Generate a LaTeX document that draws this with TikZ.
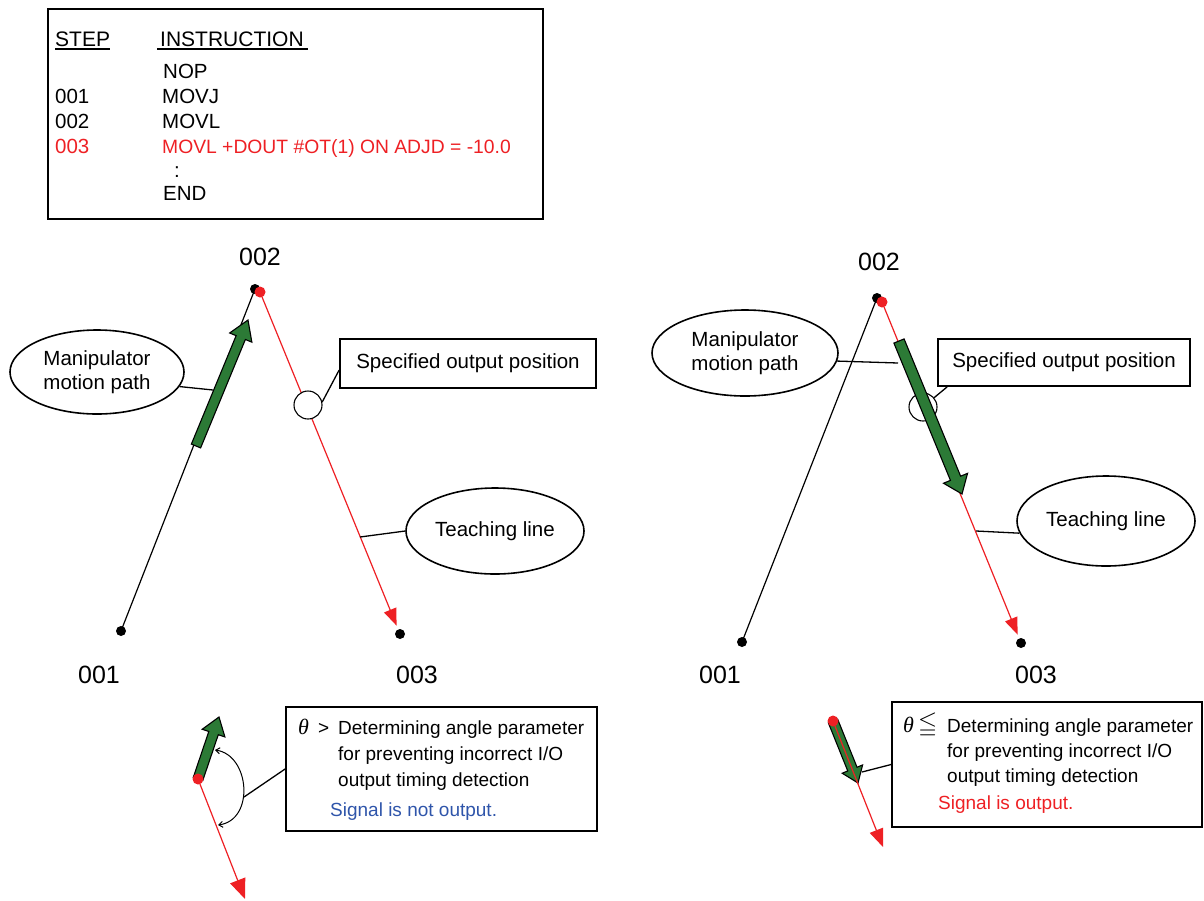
\documentclass[tikz,border=0pt]{standalone}
\usepackage{amsmath,amssymb}
\usepackage{fontspec}
\setmainfont{Liberation Sans}
\newfontfamily\thetafont{Liberation Serif}
\usetikzlibrary{shapes.geometric,arrows.meta,calc}
\definecolor{myred}{RGB}{238,32,36}
\definecolor{mygreen}{RGB}{44,122,54}
\definecolor{myblue}{RGB}{47,85,170}
\newcommand{\blockarrow}[5]{%
  \coordinate (ba-h) at ($(#2)!#5!(#1)$);
  \filldraw[fill=mygreen,draw=black,line width=1.1pt,line join=miter]
    ($(#1)!#3!90:(#2)$) -- ($(ba-h)!#3!90:(#2)$) -- ($(ba-h)!#4!90:(#2)$) -- (#2)
    -- ($(ba-h)!#4!-90:(#2)$) -- ($(ba-h)!#3!-90:(#2)$) -- ($(#1)!#3!-90:(#2)$) -- cycle;
}
\begin{document}
\begin{tikzpicture}[x=1pt,y=-1pt,
  dot/.style={circle,fill=black,inner sep=0,minimum size=10pt},
  rdot/.style={circle,fill=myred,inner sep=0,minimum size=11pt},
  ell/.style={ellipse,draw,line width=1.6pt,inner sep=0,align=center,font=\fontsize{20.5}{24}\selectfont},
  lbox/.style={draw,line width=1.8pt,inner sep=0},
  conn/.style={line width=1.3pt},
  mpath/.style={line width=1.2pt},
  tline/.style={myred,line width=1.2pt},
  txt/.style={anchor=base west,inner sep=0,font=\fontsize{20.5}{23}\selectfont},
  txtb/.style={anchor=base west,inner sep=0,font=\fontsize{19}{23}\selectfont},
  num/.style={font=\fontsize{25}{30}\selectfont,inner sep=0},
  ring/.style={circle,draw,fill=white,line width=1.1pt,minimum size=28pt,inner sep=0},
  rtip/.style={-{Triangle[length=17pt,width=13pt]}},
]
\useasboundingbox (0,0) rectangle (1204,900);

% ---------- program listing ----------
\node[lbox,minimum width=495pt,minimum height=210pt] (prog) at (295.5,114) {};
\node[txt,font=\fontsize{21}{24}\selectfont] (hstep) at (55,46) {STEP};
\node[txt,font=\fontsize{21}{24}\selectfont] (hinstr) at (160,46) {INSTRUCTION};
\draw[line width=1.2pt] ([yshift=-3pt]hstep.base west) -- ([yshift=-3pt]hstep.base east);
\draw[line width=1.2pt] ([yshift=-3pt,xshift=-3pt]hinstr.base west) -- ([yshift=-3pt,xshift=4pt]hinstr.base east);
\node[txt] (i0) at (163,78) {NOP};
\node[txt] (s1) at (55,103) {001};
\node[txt] (i1) at (162,103) {MOVJ};
\node[txt] (s2) at (55,128) {002};
\node[txt] (i2) at (162,128) {MOVL};
\node[txt,text=myred] (s3) at (55,153) {003};
\node[txt,text=myred,font=\fontsize{19.3}{23}\selectfont] (i3) at (162,153) {MOVL +DOUT \#OT(1) ON ADJD = -10.0};
\node[txt] (i4) at (174,177) {:};
\node[txt] (i5) at (163,200) {END};

% ---------- left diagram ----------
\coordinate (a1c) at (121,631);
\coordinate (a2kc) at (255,289);
\coordinate (a2c) at (260,292);
\coordinate (a3c) at (400,634);
\draw[mpath] (a1c) -- (a2kc);
\node[ell,minimum width=174pt,minimum height=84pt] (mp1) at (97,372) {Manipulator\\motion path};
\coordinate (mp1e) at (213,390);
\draw[conn] (mp1.-10) -- (mp1e);
\coordinate (ga1s) at (196,446);
\coordinate (ga1t) at (248,320);
\blockarrow{ga1s}{ga1t}{5pt}{12pt}{19pt}
\draw[tline,rtip,shorten >=9pt] (a2c) -- (a3c);
\node[dot] (a1) at (a1c) {};
\node[dot] (a2k) at (a2kc) {};
\node[rdot] (a2) at (a2c) {};
\node[dot] (a3) at (a3c) {};
\node[ring] (c1) at (308,405) {};
\node[lbox,minimum width=256pt,minimum height=49pt,font=\fontsize{20.5}{24}\selectfont] (sp1) at (468,363.5) {Specified output position};
\draw[conn] (c1.12) -- ($(sp1.south west)!0.37!(sp1.north west)$);
\node[ell,minimum width=178pt,minimum height=86pt] (tl1) at (495,531) {Teaching line};
\coordinate (tl1e) at (360,537);
\draw[conn] (tl1.west) -- (tl1e);
\node[num] (n2a) at (260,257) {002};
\node[num] (n1a) at (99,675) {001};
\node[num] (n3a) at (417,675) {003};

% ---------- right diagram ----------
\coordinate (b1c) at (742,642);
\coordinate (b2kc) at (877,298);
\coordinate (b2c) at (882,302);
\coordinate (b3c) at (1021,643);
\draw[mpath] (b1c) -- (b2kc);
\draw[tline,rtip,shorten >=9pt] (b2c) -- (b3c);
\node[dot] (b1) at (b1c) {};
\node[dot] (b2k) at (b2kc) {};
\node[rdot] (b2) at (b2c) {};
\node[dot] (b3) at (b3c) {};
\node[ring] (c2) at (923,407) {};
\node[lbox,minimum width=252pt,minimum height=47pt,font=\fontsize{20.5}{24}\selectfont] (sp2) at (1064,362.5) {Specified output position};
\draw[conn] (c2.40) -- ($(sp2.south west)+(10,0)$);
\node[ell,minimum width=186pt,minimum height=86pt] (mp2) at (745,353) {Manipulator\\motion path};
\coordinate (mp2e) at (898,363);
\draw[conn] (mp2.-5) -- (mp2e);
\coordinate (gb1s) at (899,341);
\coordinate (gb1t) at (962,494);
\blockarrow{gb1s}{gb1t}{5.5pt}{13pt}{17pt}
\node[ell,minimum width=178pt,minimum height=90pt] (tl2) at (1106,521) {Teaching line};
\coordinate (tl2e) at (976,531);
\draw[conn] (tl2.188) -- (tl2e);
\node[num] (n2b) at (879,262) {002};
\node[num] (n1b) at (720,675) {001};
\node[num] (n3b) at (1036,675) {003};

% ---------- bottom left detail ----------
\coordinate (e1c) at (198,779);
\coordinate (e1g) at (219,717);
\coordinate (e1r) at (245,899);
\draw[tline,-{Triangle[length=20pt,width=16pt]}] (e1c) -- (e1r);
\blockarrow{e1c}{e1g}{5pt}{12pt}{17pt}
\node[rdot] (e1) at (e1c) {};
\coordinate (arcA) at (215,750);
\coordinate (arcB) at (218,825);
\coordinate (arcP) at (244,797);
\draw[line width=1pt,{Straight Barb[length=4pt,width=6pt]}-{Straight Barb[length=4pt,width=6pt]}] (arcA) .. controls (250,755) and (255,820) .. (arcB);
\node[lbox,minimum width=311pt,minimum height=124pt] (bl) at (441.5,769) {};
\draw[conn] (arcP) -- (bl.west);
\node[txtb] (thl) at (298,734) {\thetafont\itshape\fontsize{22}{24}\selectfont θ};
\node[txtb] (gtl) at (318,734) {>};
\node[txtb] (l1) at (338,734) {Determining angle parameter};
\node[txtb] (l2) at (338,760) {for preventing incorrect I/O};
\node[txtb] (l3) at (338,786) {output timing detection};
\node[txtb,text=myblue] (l4) at (330,816) {Signal is not output.};

% ---------- bottom right detail ----------
\coordinate (f1c) at (833,721);
\coordinate (f1g) at (858,783);
\coordinate (f1r) at (883,847);
\blockarrow{f1c}{f1g}{5pt}{11pt}{15pt}
\draw[tline,-{Triangle[length=18pt,width=14pt]}] (f1c) -- (f1r);
\node[rdot] (f1) at (f1c) {};
\coordinate (f1p) at (862,772);
\node[lbox,minimum width=310pt,minimum height=125pt] (br) at (1047,764.5) {};
\draw[conn] (f1p) -- (br.west);
\node[txtb] (thr) at (903,732) {\thetafont\itshape\fontsize{22}{24}\selectfont θ};
\node[txtb] (ler) at (918,731) {\scalebox{1.3}{$\leqq$}};
\node[txtb] (r1) at (947,732) {Determining angle parameter};
\node[txtb] (r2) at (947,757) {for preventing incorrect I/O};
\node[txtb] (r3) at (947,782) {output timing detection};
\node[txtb,text=myred] (r4) at (938,809) {Signal is output.};
\end{tikzpicture}
\end{document}
